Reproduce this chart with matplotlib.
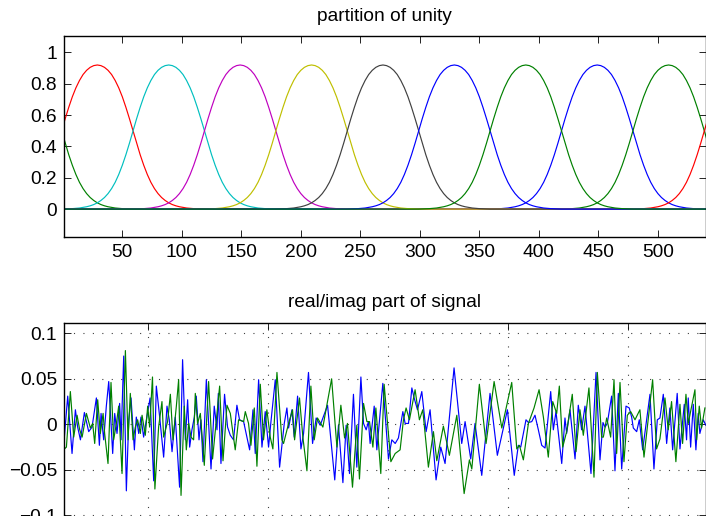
import numpy as np
import matplotlib.pyplot as plt

plt.rcParams['font.family'] = ['Liberation Sans', 'DejaVu Sans']

# --- partition of unity (top) ---
n_samples = 540
window_centers = [449, 509, 29, 89, 149, 209, 269, 329, 389]
window_colors = ['#0000ff', '#008000', '#ff0000', '#00bfbf', '#bf00bf',
                 '#bfbf00', '#404040', '#0000ff', '#008000']
# one side of the window, every 3 samples from the centre
profile_step = 3
window_profile = [0.920, 0.916, 0.905, 0.886, 0.859, 0.821, 0.774, 0.717, 0.650,
                  0.577, 0.500, 0.421, 0.347, 0.280, 0.221, 0.171, 0.131, 0.099,
                  0.074, 0.055, 0.040, 0.029, 0.021, 0.015, 0.011, 0.007, 0.005,
                  0.003, 0.002, 0.001, 0.0]
top_xticks = [50, 100, 150, 200, 250, 300, 350, 400, 450, 500]
top_yticks = [0, 0.2, 0.4, 0.6, 0.8, 1]
top_yticklabels = ['0', '0.2', '0.4', '0.6', '0.8', '1']

# --- real / imag part of signal (bottom), extrema ---
blue_u = [30.3, 33.1, 36.7, 39.5, 41.4, 43.7, 47.0, 50.6, 53.4, 57.0, 59.5, 60.9, 63.1, 65.3,
          67.3, 70.6, 72.3, 74.2, 76.4, 77.6, 79.8, 82.0, 84.0, 85.9, 88.7, 90.3, 92.3, 94.2,
          96.4, 98.7, 101.8, 104.8, 107.0, 109.8, 113.1, 115.9, 117.8, 120.1, 122.8, 126.4,
          128.9, 131.2, 133.1, 134.8, 136.7, 138.7, 140.3, 142.6, 144.2, 145.9, 148.7, 152.6,
          155.3, 157.6, 158.7, 160.9, 163.9, 166.4, 168.7, 171.4, 174.2, 176.4, 179.8, 184.8,
          187.6, 189.5, 192.3, 195.1, 197.8, 200.6, 202.6, 206.2, 209.8, 213.7, 215.9, 217.3,
          220.1, 222.0, 224.8, 227.6, 229.8, 233.9, 237.3, 240.3, 243.7, 249.8, 255.8, 258.9,
          262.6, 265.3, 268.1, 271.4, 274.2, 277.6, 279.8, 282.0, 283.9, 285.3, 288.7, 290.9,
          295.9, 300.6, 303.4, 306.2, 308.9, 312.6, 314.5, 317.3, 320.1, 322.0, 324.8, 328.4,
          332.0, 335.3, 340.3, 344.2, 347.8, 355.3, 361.7, 364.5, 369.2, 372.8, 378.4, 385.3,
          391.4, 399.8, 405.5, 408.9, 410.9, 415.3, 417.3, 420.1, 422.8, 425.6, 428.4, 431.2,
          435.9, 438.1, 440.3, 445.1, 447.8, 449.2, 452.0, 456.2, 458.9, 461.7, 464.5, 469.5,
          473.7, 477.0, 479.5, 481.2, 483.1, 486.7, 489.5, 492.3, 495.1, 498.7, 501.4, 503.4,
          504.8, 507.6, 509.8, 512.6, 518.7, 522.0, 524.8, 527.0, 529.8, 532.6, 535.3, 537.6,
          541.4, 543.7, 547.3, 549.2, 550.6, 552.6, 554.8, 557.0, 558.9, 560.3, 563.1, 565.3]
blue_v = [-0.014, 0.031, -0.032, 0.016, -0.003, -0.017, 0.013, -0.008, -0.003, 0.029, -0.023,
          0.012, -0.017, 0.020, 0.047, -0.032, 0.012, -0.010, 0.023, -0.017, 0.075, -0.073,
          0.005, 0.029, -0.028, 0.008, -0.010, 0.008, -0.014, 0.005, 0.029, -0.062, 0.042,
          0.008, -0.036, 0.020, 0.005, -0.030, 0.008, -0.069, 0.071, -0.017, 0.027, -0.025,
          -0.006, 0.008, 0.031, -0.017, 0.005, -0.041, 0.049, -0.049, 0.020, -0.006, 0.034,
          -0.043, 0.033, -0.003, -0.012, -0.017, 0.021, 0.005, 0.003, -0.028, 0.016, -0.032,
          0.049, -0.025, 0.014, -0.025, 0.003, 0.049, -0.047, 0.001, 0.018, -0.004, 0.016,
          -0.014, 0.031, -0.027, -0.010, 0.057, -0.021, 0.007, -0.001, 0.021, -0.061, -0.001,
          -0.064, -0.001, -0.054, 0.033, -0.047, 0.052, 0.001, -0.006, 0.003, -0.021, 0.020,
          -0.028, 0.045, -0.038, -0.017, -0.021, -0.015, 0.014, 0.001, 0.001, 0.040, 0.029,
          0.016, 0.036, -0.008, 0.016, -0.061, -0.025, -0.043, 0.062, -0.021, 0.003, -0.038,
          0.001, -0.056, 0.034, -0.034, 0.016, -0.056, -0.023, -0.025, 0.005, 0.002, 0.003,
          0.010, -0.006, -0.023, -0.026, 0.036, -0.006, 0.014, -0.043, 0.007, -0.010, 0.016,
          -0.038, 0.021, -0.006, 0.020, -0.054, 0.057, -0.039, 0.002, -0.003, 0.001, 0.031,
          -0.051, 0.034, -0.049, 0.020, 0.018, 0.008, -0.004, -0.008, 0.005, -0.028, 0.033,
          -0.049, 0.005, 0.007, 0.033, -0.021, 0.018, -0.028, 0.034, -0.027, 0.022, -0.017,
          0.029, -0.025, 0.022, -0.028, 0.012, -0.010, 0.005, -0.001]

green_u = [30.3, 32.0, 35.3, 38.1, 40.9, 43.1, 45.1, 48.7, 52.0, 53.9, 55.6, 58.1, 60.3, 62.6,
           63.9, 66.7, 69.2, 71.4, 73.7, 75.6, 78.4, 81.2, 83.4, 85.3, 87.6, 89.5, 91.4, 93.7,
           95.1, 97.8, 99.8, 101.4, 103.8, 105.8, 108.9, 111.7, 113.1, 116.4, 118.7, 120.9,
           123.7, 125.6, 127.6, 130.3, 132.0, 134.0, 135.9, 138.1, 139.5, 141.4, 143.7, 147.0,
           150.6, 153.9, 159.8, 162.6, 165.9, 168.7, 172.8, 175.6, 179.8, 181.2, 183.9, 185.9,
           188.7, 190.9, 193.7, 196.4, 199.2, 202.0, 204.2, 207.6, 211.7, 213.1, 217.3, 220.6,
           222.3, 226.4, 229.2, 232.6, 235.9, 238.7, 241.4, 245.9, 253.2, 257.6, 260.9, 264.0,
           266.4, 270.6, 274.2, 276.4, 279.8, 282.6, 284.8, 287.6, 290.1, 294.2, 297.0, 302.6,
           306.2, 310.3, 313.1, 315.3, 318.1, 322.8, 326.4, 329.2, 333.9, 338.1, 340.9, 346.4,
           351.4, 357.6, 363.7, 368.1, 370.1, 376.4, 382.0, 388.7, 395.1, 403.4, 407.6, 409.8,
           413.1, 417.3, 422.0, 426.2, 429.8, 433.9, 437.6, 440.9, 443.1, 445.9, 449.2, 453.9,
           457.0, 460.3, 463.1, 467.8, 472.0, 474.8, 478.4, 479.8, 482.6, 485.9, 488.7, 490.9,
           493.7, 497.0, 499.8, 502.6, 506.2, 510.3, 513.7, 520.9, 524.2, 527.0, 531.2, 533.9,
           536.7, 540.3, 543.7, 545.9, 548.7, 550.6, 556.2, 557.6, 559.8, 561.7, 564.5]
green_v = [-0.027, -0.025, 0.036, -0.014, 0.010, -0.006, -0.014, 0.012, -0.004, 0.001, -0.021,
           0.027, -0.010, 0.012, -0.010, -0.043, 0.046, -0.017, 0.001, 0.020, -0.054, 0.081,
           -0.017, 0.034, -0.017, -0.003, 0.005, -0.010, 0.010, -0.012, 0.020, -0.003, 0.052,
           -0.071, -0.003, 0.025, -0.014, 0.003, 0.033, -0.017, 0.020, 0.049, -0.078, 0.020,
           -0.028, 0.001, -0.014, -0.017, 0.034, 0.001, 0.012, -0.045, 0.047, -0.038, 0.042,
           -0.040, 0.021, 0.012, -0.028, 0.005, 0.003, 0.014, 0.001, -0.023, 0.018, -0.046,
           0.044, -0.017, 0.016, -0.014, -0.027, 0.057, -0.017, -0.021, 0.001, 0.016, -0.017,
           0.029, -0.014, -0.051, 0.042, -0.017, 0.007, -0.003, 0.050, -0.025, 0.021, -0.015,
           0.001, -0.069, -0.001, -0.060, 0.023, 0.003, 0.003, -0.025, 0.018, -0.054, 0.044,
           -0.041, -0.032, -0.028, 0.005, 0.018, 0.005, 0.038, 0.005, 0.016, -0.047, -0.008,
           -0.040, -0.002, -0.034, 0.010, -0.076, -0.039, -0.049, 0.044, -0.021, 0.047, -0.004,
           0.046, -0.027, -0.023, -0.039, 0.001, 0.018, 0.038, 0.008, -0.036, 0.025, 0.012,
           0.042, -0.025, -0.008, 0.033, -0.030, 0.016, -0.012, 0.040, -0.058, 0.057, -0.014,
           -0.014, 0.007, -0.014, 0.049, -0.032, 0.046, -0.041, 0.010, 0.014, 0.005, 0.016,
           -0.036, 0.049, -0.027, -0.016, 0.029, -0.006, 0.025, -0.041, 0.022, -0.021, 0.033,
           0.001, 0.038, -0.017, 0.020, -0.004, 0.018]
bottom_xticks = [100, 200, 300, 400, 500]
bottom_yticks = [-0.1, -0.05, 0, 0.05, 0.1]
bottom_yticklabels = ['\u22120.1', '\u22120.05', '0', '0.05', '0.1']

W, H = 706, 516
fig = plt.figure(figsize=(W / 100, H / 100), dpi=100)
ax1 = fig.add_axes([64 / W, (H - 237.3) / H, 641.5 / W, 201.3 / H])
ax2 = fig.add_axes([64 / W, (H - 526) / H, 641.5 / W, 203.3 / H])

# top: shifted copies of the window, wrapped round the circle
half = np.array(window_profile)
offs = np.arange(len(half)) * profile_step
d = np.concatenate([-offs[::-1], offs[1:]])
w = np.concatenate([half[::-1], half[1:]])
for c, col in zip(window_centers, window_colors):
    xs = np.concatenate([c + s + d for s in (-n_samples, 0, n_samples)])
    ys = np.concatenate([w, w, w])
    ax1.plot(xs, ys, color=col, lw=0.85)

ax1.set_xlim(1, n_samples)
ax1.set_ylim(-0.18, 1.105)
ax1.set_xticks(top_xticks)
ax1.set_yticks(top_yticks)
ax1.set_yticklabels(top_yticklabels)
ax1.set_title('partition of unity', fontsize=13.8, pad=11)

# bottom: real part then imaginary part
ax2.plot(blue_u, blue_v, color='#0000ff', lw=0.85)
ax2.plot(green_u, green_v, color='#008000', lw=0.85)
ax2.set_xlim(30, 565)
ax2.set_ylim(-0.1116, 0.1116)
ax2.set_xticks(bottom_xticks)
ax2.set_yticks(bottom_yticks)
ax2.set_yticklabels(bottom_yticklabels)
ax2.grid(True, color='0.25', lw=0.8, linestyle=(0, (1, 7.5)))
ax2.set_axisbelow(True)
ax2.set_title('real/imag part of signal', fontsize=13.8, pad=11)

for ax in (ax1, ax2):
    ax.tick_params(direction='in', length=5, width=0.6, top=True, right=True,
                   labelsize=13.8, pad=5)
    for sp in ax.spines.values():
        sp.set_linewidth(1.0)
# the x labels of the lower panel fall below the cropped figure
ax2.tick_params(labelbottom=False)

fig.savefig('out.png', dpi=100)
